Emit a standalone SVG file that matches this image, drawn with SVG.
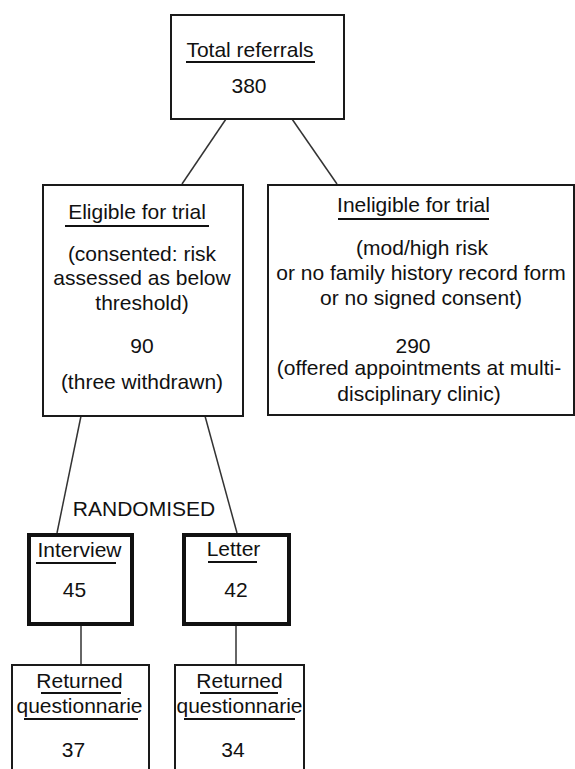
<svg xmlns="http://www.w3.org/2000/svg" width="575" height="769" viewBox="0 0 575 769">
<style>
.box{fill:#fff;stroke:#1a1a1a;stroke-width:2}
.thick{fill:#fff;stroke:#111;stroke-width:4}
.t{font-family:"Liberation Sans",Arial,sans-serif;font-size:21px;fill:#111;text-anchor:middle}
.ul{stroke:#111;stroke-width:2}
.c{stroke:#333;stroke-width:1.5;fill:none}
</style>
<rect width="575" height="769" fill="#fff"/>
<g id="connectors">
<line class="c" x1="226" y1="119" x2="182" y2="184"/>
<line class="c" x1="292" y1="119" x2="337" y2="184"/>
<line class="c" x1="81" y1="416" x2="57" y2="533"/>
<line class="c" x1="205" y1="416" x2="237" y2="533"/>
<line class="c" x1="81" y1="625" x2="81" y2="665"/>
<line class="c" x1="236" y1="626" x2="236" y2="665"/>
<text class="t" x="144" y="516">RANDOMISED</text>
</g>
<g id="total">
<rect class="box" x="171" y="15" width="173" height="104"/>
<text class="t" x="250" y="57">Total referrals</text>
<line class="ul" x1="186" y1="62" x2="315" y2="62"/>
<text class="t" x="249" y="93">380</text>
</g>
<g id="eligible">
<rect class="box" x="43" y="185" width="200" height="231"/>
<text class="t" x="137" y="219">Eligible for trial</text>
<line class="ul" x1="65" y1="226" x2="209" y2="226"/>
<text class="t" x="142" y="261">(consented: risk</text>
<text class="t" x="142" y="285">assessed as below</text>
<text class="t" x="142" y="310">threshold)</text>
<text class="t" x="142" y="353">90</text>
<text class="t" x="142" y="389">(three withdrawn)</text>
</g>
<g id="ineligible">
<rect class="box" x="268" y="185" width="306" height="230"/>
<text class="t" x="413.5" y="212">Ineligible for trial</text>
<line class="ul" x1="338" y1="219" x2="489" y2="219"/>
<text class="t" x="422" y="255">(mod/high risk</text>
<text class="t" x="421" y="280">or no family history record form</text>
<text class="t" x="421" y="305">or no signed consent)</text>
<text class="t" x="413" y="353">290</text>
<text class="t" x="419" y="375">(offered appointments at multi-</text>
<text class="t" x="419" y="401">disciplinary clinic)</text>
</g>
<g id="interview">
<rect class="thick" x="29" y="535" width="103" height="89"/>
<text class="t" x="79.5" y="557">Interview</text>
<line class="ul" x1="36" y1="563" x2="116" y2="563"/>
<text class="t" x="74.5" y="597">45</text>
</g>
<g id="letter">
<rect class="thick" x="184" y="535" width="105" height="89"/>
<text class="t" x="233.5" y="556">Letter</text>
<line class="ul" x1="208" y1="562" x2="257" y2="562"/>
<text class="t" x="236" y="597">42</text>
</g>
<g id="returned1">
<rect class="box" x="12" y="665" width="137" height="110"/>
<text class="t" x="79.5" y="688">Returned</text>
<line class="ul" x1="41" y1="693" x2="121" y2="693"/>
<text class="t" x="79.5" y="713">questionnarie</text>
<line class="ul" x1="24" y1="719" x2="138" y2="719"/>
<text class="t" x="73.5" y="757">37</text>
</g>
<g id="returned2">
<rect class="box" x="175" y="665" width="129" height="110"/>
<text class="t" x="239.5" y="688">Returned</text>
<line class="ul" x1="200" y1="693" x2="278" y2="693"/>
<text class="t" x="239.5" y="713">questionnarie</text>
<line class="ul" x1="184" y1="719" x2="295" y2="719"/>
<text class="t" x="233" y="757">34</text>
</g>
</svg>
